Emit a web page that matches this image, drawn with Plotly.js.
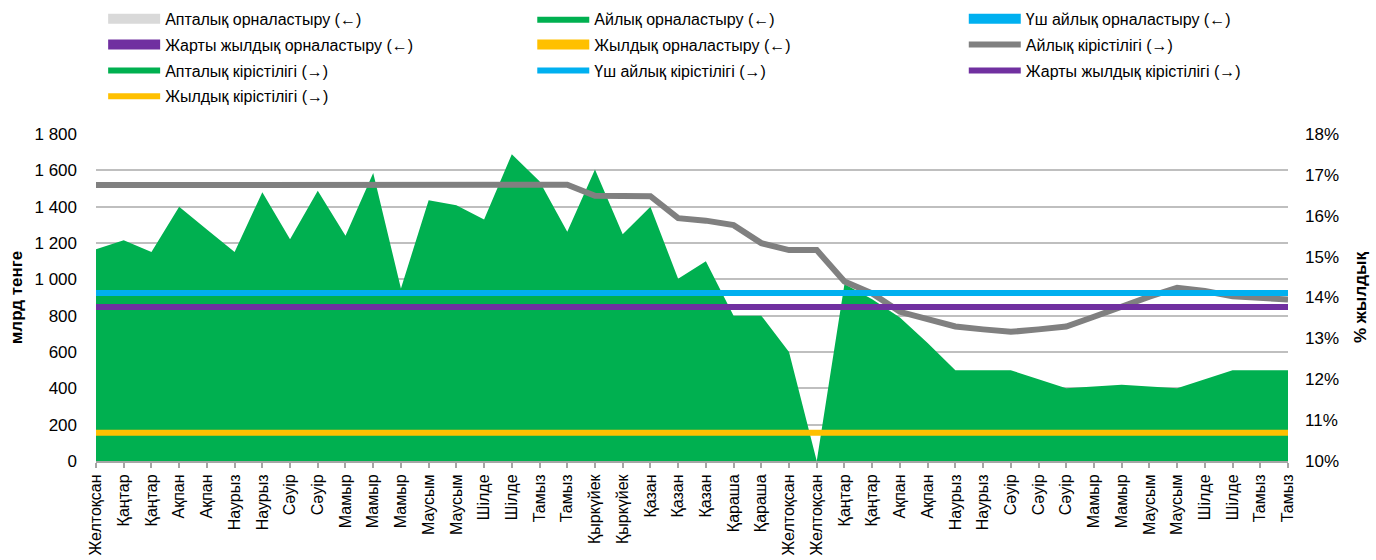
<!DOCTYPE html>
<html>
<head>
<meta charset="utf-8">
<script src="https://cdn.plot.ly/plotly-3.0.1.min.js"></script>
<style>
  html, body { margin: 0; padding: 0; background: #ffffff; }
  #chart { width: 1376px; height: 560px; }
</style>
</head>
<body>
<div id="chart"></div>
<script>
// ---- Data ----
const categories = ["Желтоқсан","Қаңтар","Қаңтар","Ақпан","Ақпан","Наурыз","Наурыз","Сәуір","Сәуір","Мамыр","Мамыр","Мамыр","Маусым","Маусым","Шілде","Шілде","Тамыз","Тамыз","Қыркүйек","Қыркүйек","Қазан","Қазан","Қазан","Қараша","Қараша","Желтоқсан","Желтоқсан","Қаңтар","Қаңтар","Ақпан","Ақпан","Наурыз","Наурыз","Сәуір","Сәуір","Сәуір","Мамыр","Мамыр","Маусым","Маусым","Шілде","Шілде","Тамыз","Тамыз"];

// placements, bn tenge (left axis); series with no visible marks in the reference are null
const placementWeekly = [null];
const placementMonthly = [1165,1215,1150,1400,1275,1150,1480,1220,1488,1240,1585,950,1435,1408,1330,1688,1540,1262,1605,1248,1400,1003,1100,800,800,600,0,975,890,790,650,500,500,500,450,400,410,420,410,400,450,500,500,500];
const placement3Month = [null];
const placementHalfYear = [null];
const placementYearly = [null];

// yields, % annual (right axis)
const yieldMonthly = [16.75,16.75,16.76,16.75,16.75,16.75,16.74,16.75,16.75,16.76,16.76,16.76,16.76,16.76,16.76,16.76,16.76,16.76,16.49,16.49,16.48,15.94,15.88,15.77,15.33,15.16,15.16,14.39,14.10,13.65,13.47,13.29,13.22,13.16,13.22,13.29,13.53,13.78,14.02,14.24,14.16,14.03,13.98,13.95];
const yieldWeekly = [null];
const yield3Month = [14.11,14.11,14.11,14.11,14.11,14.11,14.11,14.11,14.11,14.11,14.11,14.11,14.11,14.11,14.11,14.11,14.11,14.11,14.11,14.11,14.11,14.11,14.11,14.11,14.11,14.11,14.11,14.11,14.11,14.11,14.11,14.11,14.11,14.11,14.11,14.11,14.11,14.11,14.11,14.11,14.11,14.11,14.11,14.11];
const yieldHalfYear = [13.77,13.77,13.77,13.77,13.77,13.77,13.77,13.77,13.77,13.77,13.77,13.77,13.77,13.77,13.77,13.77,13.77,13.77,13.77,13.77,13.77,13.77,13.77,13.77,13.77,13.77,13.77,13.77,13.77,13.77,13.77,13.77,13.77,13.77,13.77,13.77,13.77,13.77,13.77,13.77,13.77,13.77,13.77,13.77];
const yieldYearly = [10.69,10.69,10.69,10.69,10.69,10.69,10.69,10.69,10.69,10.69,10.69,10.69,10.69,10.69,10.69,10.69,10.69,10.69,10.69,10.69,10.69,10.69,10.69,10.69,10.69,10.69,10.69,10.69,10.69,10.69,10.69,10.69,10.69,10.69,10.69,10.69,10.69,10.69,10.69,10.69,10.69,10.69,10.69,10.69];

const leftTicks = [0,200,400,600,800,1000,1200,1400,1600,1800];
const leftTickText = ["0","200","400","600","800","1 000","1 200","1 400","1 600","1 800"];
const rightTicks = [10,11,12,13,14,15,16,17,18];
const rightTickText = ["10%","11%","12%","13%","14%","15%","16%","17%","18%"];

// ---- Build ----
const xIdx = categories.map((_, i) => i);
const FONT = "'Liberation Sans', Arial, sans-serif";
const C = {green:'#00B050', blue:'#00B0F0', purple:'#7030A0', yellow:'#FFC000', gray:'#808080', lgray:'#D9D9D9'};

function placeTrace(name, vals, color, lg) {
  return {type:'scatter', mode:'lines', name:name, x:xIdx.slice(0, vals.length), y:vals,
          line:{color:color, width:10}, yaxis:'y', legend:lg, legendgroup:name, hoverinfo:'skip'};
}
function yieldTrace(name, vals, color, lg) {
  return {type:'scatter', mode:'lines', name:name, x:xIdx.slice(0, vals.length), y:vals,
          line:{color:color, width:6}, yaxis:'y2', legend:lg, legendgroup:name};
}

const traces = [
  placeTrace('Апталық орналастыру (←)', placementWeekly, C.lgray, 'legend'),
  {type:'scatter', mode:'lines', name:'Айлық орналастыру (←)', x:xIdx, y:placementMonthly,
   fill:'tozeroy', fillcolor:C.green, line:{color:C.green, width:0}, yaxis:'y',
   legend:'legend2', legendgroup:'Айлық орналастыру'},
  placeTrace('Үш айлық орналастыру (←)', placement3Month, C.blue, 'legend3'),
  placeTrace('Жарты жылдық орналастыру (←)', placementHalfYear, C.purple, 'legend'),
  placeTrace('Жылдық орналастыру (←)', placementYearly, C.yellow, 'legend2'),
  yieldTrace('Айлық кірістілігі (→)', yieldMonthly, C.gray, 'legend3'),
  yieldTrace('Апталық кірістілігі (→)', yieldWeekly, C.green, 'legend'),
  yieldTrace('Үш айлық кірістілігі (→)', yield3Month, C.blue, 'legend2'),
  yieldTrace('Жарты жылдық кірістілігі (→)', yieldHalfYear, C.purple, 'legend3'),
  yieldTrace('Жылдық кірістілігі (→)', yieldYearly, C.yellow, 'legend')
];

function legendAt(x) {
  return {orientation:'v', x:x, xanchor:'left', y:1.404, yanchor:'top', itemwidth:52,
          font:{family:FONT, size:16, color:'#000000'}, traceorder:'grouped', tracegroupgap:2,
          bgcolor:'rgba(0,0,0,0)', borderwidth:0};
}

const layout = {
  width:1376, height:560,
  margin:{l:96, r:88, t:134, b:99, autoexpand:false},
  paper_bgcolor:'#ffffff', plot_bgcolor:'#ffffff',
  font:{family:FONT, size:17, color:'#000000'},
  showlegend:true,
  legend: legendAt(0.006),
  legend2: legendAt(0.366),
  legend3: legendAt(0.728),
  xaxis:{range:[0,43], tickmode:'array', tickvals:xIdx, ticktext:categories,
         tickangle:-90, ticks:'outside', ticklen:5, tickcolor:'#A6A6A6', tickwidth:2,
         showline:true, linecolor:'#A6A6A6', linewidth:2, showgrid:false, zeroline:false,
         tickfont:{family:FONT, size:16, color:'#000000'}, fixedrange:true},
  yaxis:{range:[0,1800], tickmode:'array', tickvals:leftTicks, ticktext:leftTickText,
         showgrid:true, gridcolor:'#BFBFBF', gridwidth:2, zeroline:false, showline:false,
         ticks:'', ticklabelstandoff:18,
         tickfont:{family:FONT, size:17, color:'#000000'},
         title:{text:'<b>млрд тенге</b>', font:{family:FONT, size:17, color:'#000000'}, standoff:7}},
  yaxis2:{range:[10,18], overlaying:'y', side:'right', tickmode:'array', tickvals:rightTicks,
          ticktext:rightTickText, showgrid:false, zeroline:false, showline:false, ticks:'',
          ticklabelstandoff:16,
          tickfont:{family:FONT, size:17, color:'#000000'},
          title:{text:'<b>% жылдық</b>', font:{family:FONT, size:17, color:'#000000'}, standoff:16}}
};

Plotly.newPlot('chart', traces, layout, {displayModeBar:false, staticPlot:true});
</script>
</body>
</html>
